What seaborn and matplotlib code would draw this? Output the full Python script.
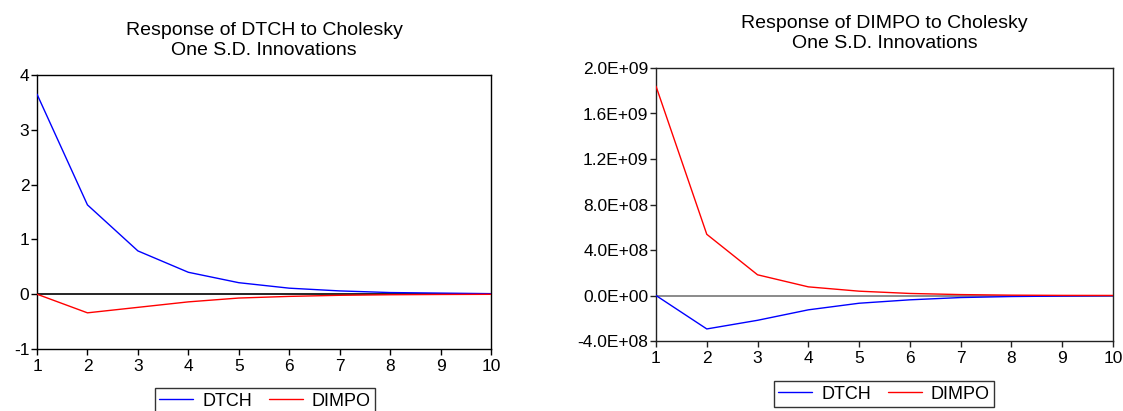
import matplotlib
matplotlib.use("Agg")
import matplotlib.pyplot as plt
import seaborn as sns
import pandas as pd

periods = [1, 2, 3, 4, 5, 6, 7, 8, 9, 10]

# Response of DTCH
dtch_to_dtch = [3.65, 1.63, 0.79, 0.40, 0.21, 0.11, 0.06, 0.03, 0.02, 0.01]
dtch_to_dimpo = [0.0, -0.34, -0.24, -0.14, -0.07, -0.04, -0.02, -0.01, -0.005, -0.002]

# Response of DIMPO
dimpo_to_dtch = [0.0, -2.94e8, -2.18e8, -1.26e8, -6.8e7, -3.8e7, -1.8e7, -9e6, -5e6, -2e6]
dimpo_to_dimpo = [1.84e9, 5.38e8, 1.82e8, 7.6e7, 3.8e7, 1.8e7, 8e6, 3e6, 1e6, 5e5]

series_names = ["DTCH", "DIMPO"]
series_colors = ["#0000FF", "#FF0000"]

left_yticks = [-1, 0, 1, 2, 3, 4]
left_yticklabels = ["-1", "0", "1", "2", "3", "4"]
right_yticks = [-4e8, 0, 4e8, 8e8, 1.2e9, 1.6e9, 2.0e9]
right_yticklabels = ["-4.0E+08", "0.0E+00", "4.0E+08", "8.0E+08", "1.2E+09", "1.6E+09", "2.0E+09"]

titles = ["Response of DTCH to Cholesky\nOne S.D. Innovations",
          "Response of DIMPO to Cholesky\nOne S.D. Innovations"]

sns.set_style("ticks")
plt.rcParams['font.family'] = ['Liberation Sans', 'DejaVu Sans']
plt.rcParams['text.color'] = 'black'
plt.rcParams['axes.labelcolor'] = 'black'
plt.rcParams['xtick.color'] = 'black'
plt.rcParams['ytick.color'] = 'black'

fig = plt.figure(figsize=(11.23, 4.11), dpi=100)
W, H = 1123, 411

def make_ax(x0, x1, ytop, ybot):
    return fig.add_axes([x0 / W, (H - ybot) / H, (x1 - x0) / W, (ybot - ytop) / H])

ax1 = make_ax(37, 491, 75, 349)
ax2 = make_ax(656, 1113, 68, 341)

def draw(ax, a, b, yticks, ylabels, title, legend_center, zero_color, spine_color):
    df = pd.DataFrame({
        "period": periods * 2,
        "value": list(a) + list(b),
        "series": [series_names[0]] * len(periods) + [series_names[1]] * len(periods),
    })
    ax.axhline(0, color=zero_color, lw=1.2, zorder=1)
    sns.lineplot(data=df, x="period", y="value", hue="series",
                 palette=dict(zip(series_names, series_colors)),
                 ax=ax, lw=1.0, legend=False, zorder=3)
    ax.set_xlim(1, 10)
    ax.set_ylim(yticks[0], yticks[-1])
    ax.set_xticks(periods)
    ax.set_xticklabels([str(p) for p in periods], fontsize=12.5, color="black")
    ax.set_yticks(yticks)
    ax.set_yticklabels(ylabels, fontsize=12.5, color="black")
    ax.set_xlabel("")
    ax.set_ylabel("")
    ax.tick_params(axis="both", direction="out", length=4, width=1, color=spine_color)
    ax.tick_params(axis="x", pad=3)
    ax.tick_params(axis="y", pad=1.5)
    for s in ax.spines.values():
        s.set_visible(True)
        s.set_color(spine_color)
        s.set_linewidth(1.0)
    ax.set_title(title, fontsize=14, pad=14.5, linespacing=1.22, color="black")
    handles = [plt.Line2D([], [], color=c, lw=1.0) for c in series_colors]
    leg = fig.legend(handles, series_names, loc="center",
                     bbox_to_anchor=(legend_center[0] / W, (H - legend_center[1]) / H),
                     ncol=2, frameon=True, fancybox=False, fontsize=13,
                     handlelength=1.9, columnspacing=0.9, borderpad=0.25,
                     handletextpad=0.5)
    leg.get_frame().set_edgecolor("black")
    leg.get_frame().set_linewidth(1.0)
    for t in leg.get_texts():
        t.set_color("black")

draw(ax1, dtch_to_dtch, dtch_to_dimpo, left_yticks, left_yticklabels, titles[0],
     (265, 401), "black", "black")
draw(ax2, dimpo_to_dtch, dimpo_to_dimpo, right_yticks, right_yticklabels, titles[1],
     (884, 394), "#777777", "#222222")

fig.savefig("out.png", dpi=100)
